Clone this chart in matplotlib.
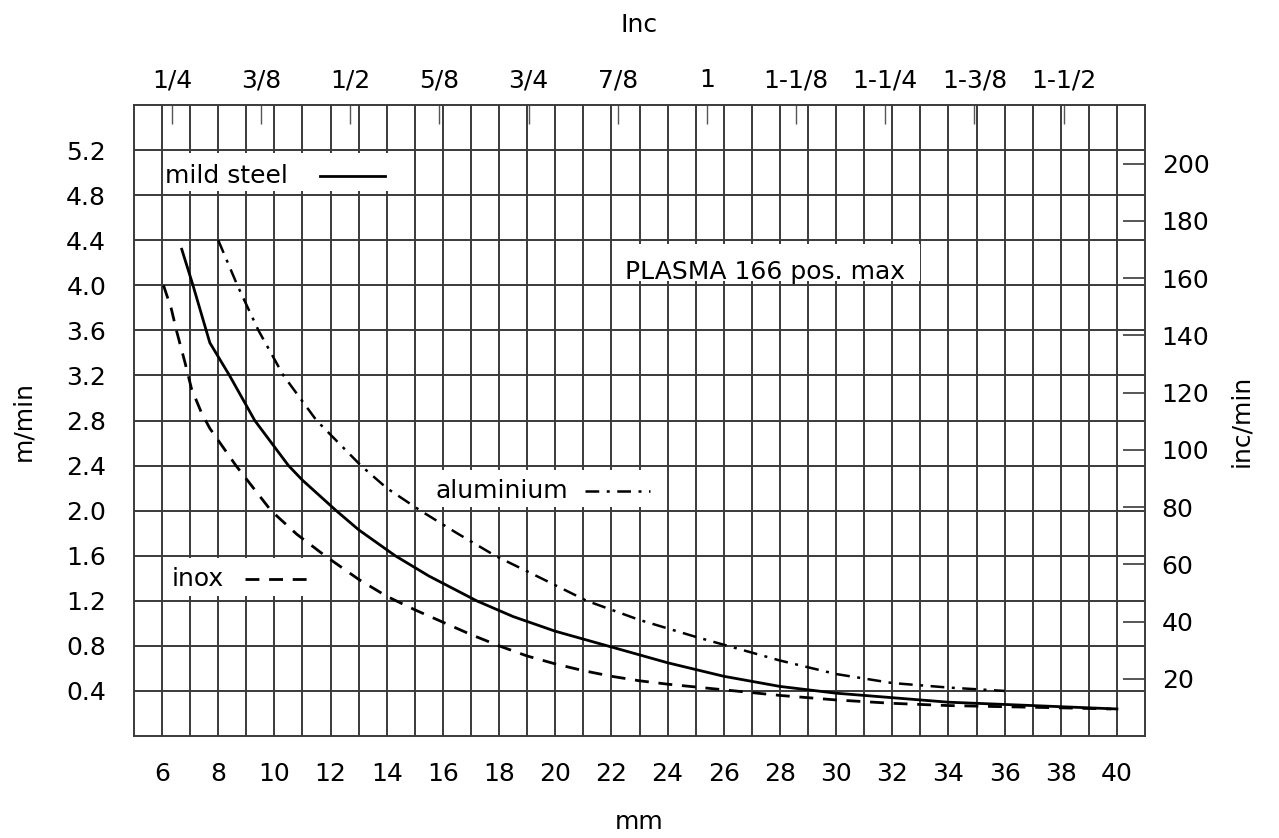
import matplotlib
matplotlib.use("Agg")
import matplotlib.pyplot as plt
from matplotlib.patches import Rectangle
import numpy as np

# ---- data ----
steel_x = [6.7, 7.1, 7.7, 8.4, 9.3, 10.5, 11.0, 12.2, 13.0, 14.3, 15.5, 17.2, 18.5, 20.0, 22.0, 24.0, 26.0, 28.0, 30.0, 32.0, 34.0, 36.0, 38.0, 40.0]
steel_y = [4.32, 4.0, 3.49, 3.2, 2.8, 2.4, 2.27, 2.0, 1.83, 1.6, 1.42, 1.2, 1.06, 0.93, 0.79, 0.65, 0.53, 0.44, 0.38, 0.34, 0.30, 0.28, 0.26, 0.24]

inox_x = [6.05, 6.33, 6.51, 6.81, 7.05, 7.4, 7.7, 8.63, 9.88, 10.8, 11.8, 13.0, 14.0, 15.0, 16.0, 17.0, 18.0, 19.0, 20.0, 21.0, 22.0, 23.0, 24.0, 26.0, 28.0, 30.0, 32.0, 34.0, 36.0, 38.0, 39.8]
inox_y = [4.0, 3.79, 3.6, 3.32, 3.08, 2.87, 2.73, 2.4, 2.0, 1.79, 1.6, 1.39, 1.24, 1.12, 1.01, 0.9, 0.8, 0.71, 0.64, 0.58, 0.53, 0.49, 0.46, 0.41, 0.36, 0.32, 0.29, 0.27, 0.26, 0.25, 0.24]

alu_x = [8.0, 8.68, 9.43, 10.32, 11.5, 13.08, 14.0, 15.2, 16.5, 17.86, 19.5, 21.12, 23.0, 25.0, 26.0, 28.0, 30.0, 32.0, 34.0, 36.0]
alu_y = [4.4, 4.0, 3.6, 3.2, 2.8, 2.4, 2.2, 2.0, 1.8, 1.6, 1.4, 1.2, 1.03, 0.88, 0.81, 0.67, 0.55, 0.47, 0.43, 0.40]

mm_ticks = list(range(6, 41, 2))
mm_grid = list(range(6, 41))
ms_ticks = [0.4, 0.8, 1.2, 1.6, 2.0, 2.4, 2.8, 3.2, 3.6, 4.0, 4.4, 4.8, 5.2]
inch_ticks = [0.25, 0.375, 0.5, 0.625, 0.75, 0.875, 1.0, 1.125, 1.25, 1.375, 1.5]
inch_labels = ["1/4", "3/8", "1/2", "5/8", "3/4", "7/8", "1", "1-1/8", "1-1/4", "1-3/8", "1-1/2"]
ipm_ticks = [20, 40, 60, 80, 100, 120, 140, 160, 180, 200]

plt.rcParams['font.family'] = ['DejaVu Sans']
FS = 18
GRID = '#3a3a3a'

fig = plt.figure(figsize=(12.79, 8.38), dpi=100)
ax = fig.add_axes([134/1279, 1-736/838, (1145-134)/1279, (736-105)/838])

ax.set_xlim(5, 41)
ax.set_ylim(0, 5.6)

ax.set_xticks(mm_ticks)
ax.set_xticks(mm_grid, minor=True)
ax.set_yticks(ms_ticks)
ax.set_yticklabels([f"{v:.1f}" for v in ms_ticks])
ax.tick_params(axis='both', which='both', length=0, labelsize=FS)
ax.tick_params(axis='x', pad=19)
ax.tick_params(axis='y', pad=20)
ax.grid(True, which='both', axis='x', color=GRID, lw=1.4, zorder=1)
ax.grid(True, which='major', axis='y', color=GRID, lw=1.4, zorder=1)
ax.set_axisbelow(True)
for s in ax.spines.values():
    s.set_color(GRID)
    s.set_linewidth(1.4)

ax.set_xlabel("mm", fontsize=FS, labelpad=17)
ax.set_ylabel("m/min", fontsize=FS, labelpad=22)

# curves
ax.plot(steel_x, steel_y, color='black', lw=2.0, zorder=5)
ax.plot(inox_x, inox_y, color='black', lw=2.0, dashes=(5, 3.5), zorder=5)
ax.plot(alu_x, alu_y, color='black', lw=1.8, dashes=(5.5, 3, 1.2, 3), zorder=5)

# label boxes (white backgrounds covering the grid)
boxes = [(6.15, 4.84, 7.9, 0.33), (6.15, 1.24, 5.5, 0.34), (15.4, 2.03, 8.2, 0.33), (22.2, 4.04, 10.8, 0.33)]
for bx, by, bw, bh in boxes:
    ax.add_patch(Rectangle((bx, by), bw, bh, facecolor='white', edgecolor='none', zorder=3))

ax.text(6.1, 4.97, "mild steel", fontsize=FS, va='center', ha='left', zorder=6)
ax.plot([11.62, 13.94], [4.97, 4.97], color='black', lw=2.0, zorder=6)

ax.text(6.35, 1.39, "inox", fontsize=FS, va='center', ha='left', zorder=6)
ax.plot([8.95, 11.44], [1.39, 1.39], color='black', lw=2.0, dashes=(5, 3.5), zorder=6)

ax.text(15.72, 2.17, "aluminium", fontsize=FS, va='center', ha='left', zorder=6)
ax.plot([21.06, 23.37], [2.17, 2.17], color='black', lw=1.8, dashes=(5.5, 3, 1.2, 3), zorder=6)

ax.text(22.48, 4.12, "PLASMA 166 pos. max", fontsize=FS, va='center', ha='left', zorder=6)

# right axis: inc/min
M2IN = 39.3701
sec_y = ax.secondary_yaxis('right', functions=(lambda v: v * M2IN, lambda v: v / M2IN))
sec_y.set_yticks(ipm_ticks)
sec_y.tick_params(direction='in', length=16, width=1.2, color=GRID, labelsize=FS, pad=12)
sec_y.set_ylabel("inc/min", fontsize=FS, labelpad=14)
sec_y.spines['right'].set_visible(False)

# top axis: inches
sec_x = ax.secondary_xaxis('top', functions=(lambda v: v / 25.4, lambda v: v * 25.4))
sec_x.set_xticks(inch_ticks)
sec_x.set_xticklabels(inch_labels)
sec_x.tick_params(direction='in', length=14, width=1.0, color='#555555', labelsize=FS, pad=9)
sec_x.set_xlabel("Inc", fontsize=FS, labelpad=26)
sec_x.spines['top'].set_visible(False)

fig.savefig("out.png", dpi=100, facecolor='white')
